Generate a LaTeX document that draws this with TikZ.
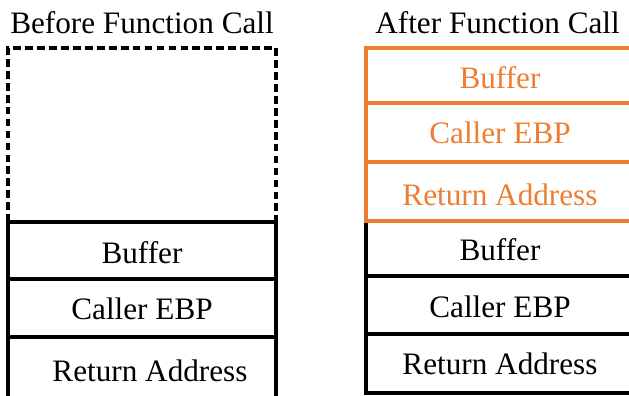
\documentclass[tikz,border=0pt]{standalone}
\usepackage{fontspec}
\setmainfont{Liberation Serif}
\definecolor{pushorange}{HTML}{ED7D31}

\begin{document}
\begin{tikzpicture}[
    frame/.style={line width=2.2pt},
    celltext/.style={anchor=base, inner sep=0pt, font=\fontsize{22.2}{26}\selectfont}
  ]
        \useasboundingbox (0,0) rectangle (15.725,-9.9);
        % empty stack space above the old frame (dashed)
        \draw[frame, dash pattern=on 5.5pt off 3pt] (0.2,-5.55) -- (0.2,-1.2) -- (6.9,-1.2) -- (6.9,-5.55);
        % stack before the call
        \draw[frame] (0.2,-5.55) rectangle (6.9,-10.2);
        \draw[frame] (0.2,-6.975) -- (6.9,-6.975);
        \draw[frame] (0.2,-8.425) -- (6.9,-8.425);
        % stack after the call, old frame at the bottom
        \draw[frame] (9.15,-5.525) rectangle (15.85,-9.825);
        \draw[frame] (9.15,-6.9) -- (15.85,-6.9);
        \draw[frame] (9.15,-8.35) -- (15.85,-8.35);
        % new frame pushed on top
        \draw[frame, pushorange] (9.15,-1.2) rectangle (15.85,-5.525);
        \draw[frame, pushorange] (9.15,-2.575) -- (15.85,-2.575);
        \draw[frame, pushorange] (9.15,-4.05) -- (15.85,-4.05);
        \node[celltext] (before) at (3.55,-0.825) {Before Function Call};
        \node[celltext] (after) at (12.44,-0.825) {After Function Call};
        \node[celltext] (bufA) at (3.55,-6.575) {Buffer};
        \node[celltext] (ebpA) at (3.55,-7.975) {Caller EBP};
        \node[celltext] (retA) at (3.75,-9.525) {Return Address};
        \node[celltext, pushorange] (bufN) at (12.5,-2.2) {Buffer};
        \node[celltext, pushorange] (ebpN) at (12.5,-3.575) {Caller EBP};
        \node[celltext, pushorange] (retN) at (12.5,-5.125) {Return Address};
        \node[celltext] (bufB) at (12.5,-6.5) {Buffer};
        \node[celltext] (ebpB) at (12.5,-7.925) {Caller EBP};
        \node[celltext] (retB) at (12.5,-9.35) {Return Address};
\end{tikzpicture}
\end{document}
